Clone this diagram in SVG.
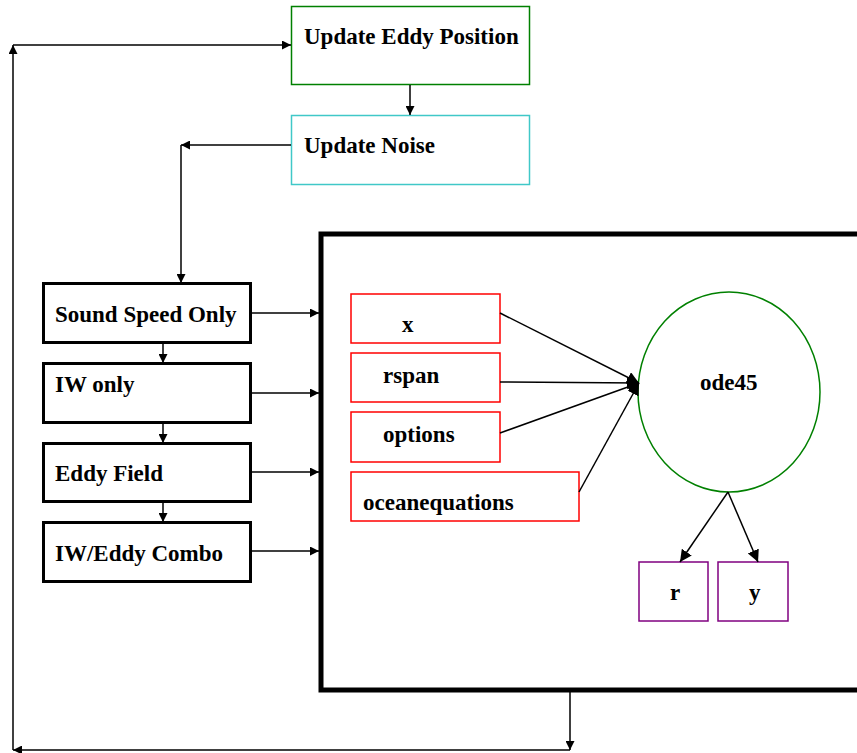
<svg xmlns="http://www.w3.org/2000/svg" width="857" height="753" viewBox="0 0 857 753">
  <style>
    .lbl { font-family: "Liberation Serif", "Times New Roman", serif; font-weight: bold; font-size: 23px; fill: #000; }
    .blk { fill: #fff; stroke: #000; stroke-width: 3; }
    .red { fill: #fff; stroke: #ff0000; stroke-width: 1.5; }
    .pur { fill: #fff; stroke: #800080; stroke-width: 1.5; }
    .con { fill: none; stroke: #000; stroke-width: 1.5; }
  </style>
  <defs>
    <marker id="ah" viewBox="0 0 10 10" refX="10" refY="5" markerWidth="9" markerHeight="9" markerUnits="userSpaceOnUse" orient="auto">
      <path d="M0,0 L10,5 L0,10 z" fill="#000"/>
    </marker>
    <marker id="ahBig" viewBox="0 0 10 10" refX="10" refY="5" markerWidth="12" markerHeight="12" markerUnits="userSpaceOnUse" orient="auto">
      <path d="M0,0 L10,5 L0,10 z" fill="#000"/>
    </marker>
  </defs>

  <!-- solver frame -->
  <g id="solver-frame">
    <rect x="321" y="234" width="560" height="456" fill="#fff" stroke="#000" stroke-width="5"/>
  </g>

  <g id="update-eddy-position">
    <rect x="291.5" y="6.5" width="238" height="78" fill="#fff" stroke="#008000" stroke-width="1.5"/>
    <text class="lbl" x="304" y="44">Update Eddy Position</text>
  </g>
  <g id="update-noise">
    <rect x="291.5" y="115.5" width="238" height="69" fill="#fff" stroke="#40c8c8" stroke-width="1.5"/>
    <text class="lbl" x="304" y="153">Update Noise</text>
  </g>

  <g id="sound-speed-only">
    <rect class="blk" x="43.5" y="283.5" width="207" height="59"/>
    <text class="lbl" x="55" y="322">Sound Speed Only</text>
  </g>
  <g id="iw-only">
    <rect class="blk" x="43.5" y="363.5" width="207" height="59"/>
    <text class="lbl" x="55" y="392">IW only</text>
  </g>
  <g id="eddy-field">
    <rect class="blk" x="43.5" y="443.5" width="207" height="58"/>
    <text class="lbl" x="55" y="481">Eddy Field</text>
  </g>
  <g id="iw-eddy-combo">
    <rect class="blk" x="43.5" y="522.5" width="207" height="59"/>
    <text class="lbl" x="55" y="561">IW/Eddy Combo</text>
  </g>

  <g id="in-x">
    <rect class="red" x="351" y="294" width="149" height="49"/>
    <text class="lbl" x="402" y="332">x</text>
  </g>
  <g id="in-rspan">
    <rect class="red" x="351" y="353" width="149" height="49"/>
    <text class="lbl" x="383" y="383">rspan</text>
  </g>
  <g id="in-options">
    <rect class="red" x="351" y="412" width="149" height="50"/>
    <text class="lbl" x="383" y="442">options</text>
  </g>
  <g id="in-oceanequations">
    <rect class="red" x="351" y="472" width="228" height="49"/>
    <text class="lbl" x="363" y="510">oceanequations</text>
  </g>

  <g id="ode45">
    <ellipse cx="729" cy="392" rx="91" ry="100" fill="#fff" stroke="#008000" stroke-width="1.5"/>
    <text class="lbl" x="700" y="390">ode45</text>
  </g>

  <g id="out-r">
    <rect class="pur" x="639" y="562" width="69" height="59"/>
    <text class="lbl" x="670" y="600">r</text>
  </g>
  <g id="out-y">
    <rect class="pur" x="718" y="562" width="70" height="59"/>
    <text class="lbl" x="749" y="600">y</text>
  </g>

  <g id="connectors" class="con">
    <line class="con" x1="410" y1="85" x2="410" y2="115" marker-end="url(#ah)"/>
    <polyline class="con" points="291,145 181,145" marker-end="url(#ah)"/>
    <polyline class="con" points="181,145 181,283" marker-end="url(#ah)"/>
    <line class="con" x1="163" y1="343" x2="163" y2="363" marker-end="url(#ah)"/>
    <line class="con" x1="163" y1="423" x2="163" y2="443" marker-end="url(#ah)"/>
    <line class="con" x1="163" y1="502" x2="163" y2="522" marker-end="url(#ah)"/>
    <line class="con" x1="251" y1="313" x2="319" y2="313" marker-end="url(#ah)"/>
    <line class="con" x1="251" y1="393" x2="319" y2="393" marker-end="url(#ah)"/>
    <line class="con" x1="251" y1="472" x2="319" y2="472" marker-end="url(#ah)"/>
    <line class="con" x1="251" y1="551" x2="319" y2="551" marker-end="url(#ah)"/>
    <line class="con" x1="500" y1="313" x2="639" y2="383" marker-end="url(#ahBig)"/>
    <line class="con" x1="500" y1="382" x2="639" y2="383" marker-end="url(#ahBig)"/>
    <line class="con" x1="500" y1="433" x2="639" y2="383" marker-end="url(#ahBig)"/>
    <line class="con" x1="579" y1="492" x2="639" y2="383" marker-end="url(#ahBig)"/>
    <line class="con" x1="728" y1="492" x2="680" y2="562" marker-end="url(#ahBig)"/>
    <line class="con" x1="728" y1="492" x2="758" y2="562" marker-end="url(#ahBig)"/>
    <line class="con" x1="570" y1="690" x2="570" y2="750" marker-end="url(#ah)"/>
    <line class="con" x1="570" y1="750" x2="13" y2="750" marker-end="url(#ah)"/>
    <line class="con" x1="13" y1="750" x2="13" y2="45" marker-end="url(#ah)"/>
    <line class="con" x1="13" y1="45" x2="291" y2="45" marker-end="url(#ah)"/>
  </g>
</svg>
